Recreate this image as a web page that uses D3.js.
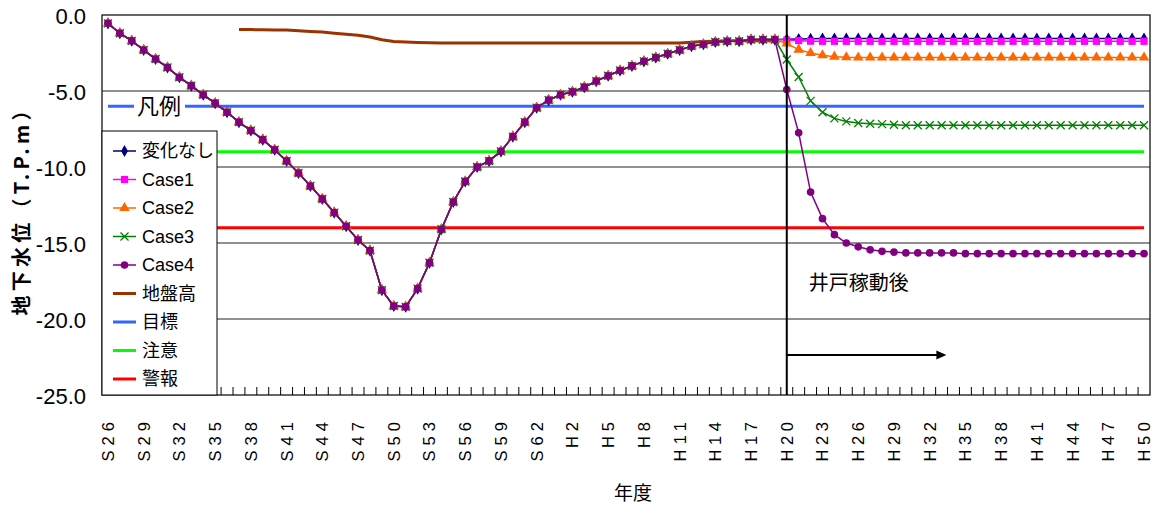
<!DOCTYPE html>
<html>
<head>
<meta charset="utf-8">
<script src="https://cdn.jsdelivr.net/npm/d3@7"></script>
<style>
  body { margin: 0; background: #fff; }
  svg { display: block; }
</style>
</head>
<body>
<div id="chart"></div>
<script>
const width = 1164
const height = 510

// fiscal years S26 .. H50
const categories = ["S26","S27","S28","S29","S30","S31","S32","S33","S34","S35","S36","S37","S38","S39","S40","S41","S42","S43","S44","S45","S46","S47","S48","S49","S50","S51","S52","S53","S54","S55","S56","S57","S58","S59","S60","S61","S62","S63","H1","H2","H3","H4","H5","H6","H7","H8","H9","H10","H11","H12","H13","H14","H15","H16","H17","H18","H19","H20","H21","H22","H23","H24","H25","H26","H27","H28","H29","H30","H31","H32","H33","H34","H35","H36","H37","H38","H39","H40","H41","H42","H43","H44","H45","H46","H47","H48","H49","H50"]
const tickLabels = ["S26","S29","S32","S35","S38","S41","S44","S47","S50","S53","S56","S59","S62","H2","H5","H8","H11","H14","H17","H20","H23","H26","H29","H32","H35","H38","H41","H44","H47","H50"]
const yTicks = [0, -5, -10, -15, -20, -25]

// observed levels S26..H19, shared by every case
const observed = [-0.55,-1.2,-1.7,-2.3,-2.9,-3.45,-4.1,-4.65,-5.25,-5.8,
  -6.4,-7.05,-7.6,-8.2,-8.87,-9.6,-10.4,-11.25,-12.1,-13.0,
  -13.9,-14.8,-15.5,-18.1,-19.15,-19.2,-18.0,-16.3,-14.1,-12.3,
  -10.95,-10.0,-9.6,-8.97,-8.0,-7.05,-6.1,-5.6,-5.25,-5.05,
  -4.75,-4.35,-4.0,-3.65,-3.35,-3.05,-2.8,-2.55,-2.3,-2.05,
  -1.93,-1.78,-1.73,-1.73,-1.62,-1.62,-1.62]

// H20..H50 per case
const noChange = [-1.6,-1.58,-1.56,-1.55,-1.55,-1.55,-1.55,-1.55,-1.55,-1.55,
  -1.55,-1.55,-1.55,-1.55,-1.55,-1.55,-1.55,-1.55,-1.55,-1.55,
  -1.55,-1.55,-1.55,-1.55,-1.55,-1.55,-1.55,-1.55,-1.55,-1.55,-1.55]
const case1 = [-1.65,-1.68,-1.72,-1.73,-1.73,-1.73,-1.73,-1.73,-1.73,-1.73,
  -1.73,-1.73,-1.73,-1.73,-1.73,-1.73,-1.73,-1.73,-1.73,-1.73,
  -1.73,-1.73,-1.73,-1.73,-1.73,-1.73,-1.73,-1.73,-1.73,-1.73,-1.73]
const case2 = [-1.88,-2.28,-2.5,-2.65,-2.74,-2.78,-2.8,-2.8,-2.8,-2.8,
  -2.8,-2.8,-2.8,-2.8,-2.8,-2.8,-2.8,-2.8,-2.8,-2.8,
  -2.8,-2.8,-2.8,-2.8,-2.8,-2.8,-2.8,-2.8,-2.8,-2.8,-2.8]
const case3 = [-2.93,-4.08,-5.65,-6.4,-6.8,-7.0,-7.1,-7.15,-7.18,-7.22,
  -7.25,-7.25,-7.25,-7.25,-7.25,-7.25,-7.25,-7.25,-7.25,-7.25,
  -7.25,-7.25,-7.25,-7.25,-7.25,-7.25,-7.25,-7.25,-7.25,-7.25,-7.25]
const case4 = [-4.9,-7.75,-11.65,-13.4,-14.45,-15.0,-15.25,-15.45,-15.55,-15.6,
  -15.65,-15.65,-15.65,-15.65,-15.65,-15.7,-15.7,-15.7,-15.7,-15.7,
  -15.7,-15.7,-15.7,-15.7,-15.7,-15.7,-15.7,-15.7,-15.7,-15.7,-15.7]

// ground level S37..H19
const groundStart = "S37"
const ground = [-0.95,-0.96,-0.97,-0.98,-0.99,-1.03,-1.08,-1.12,-1.2,-1.27,
  -1.33,-1.45,-1.63,-1.74,-1.78,-1.81,-1.83,-1.85,-1.85,-1.85,
  -1.85,-1.85,-1.85,-1.85,-1.85,-1.85,-1.85,-1.85,-1.85,-1.85,
  -1.85,-1.85,-1.85,-1.85,-1.85,-1.85,-1.85,-1.85,-1.8,-1.75,
  -1.72,-1.7,-1.7,-1.7,-1.7,-1.7]

const target = -6.0    // 目標
const caution = -9.0   // 注意
const alarm = -14.0    // 警報
const wellStart = "H20"
const arrowEnd = "H33"

const latin = "'Liberation Sans', Arial, sans-serif"
const jp = "'Noto Sans CJK JP', sans-serif"

const x = d3.scaleBand().domain(categories).range([102, 1150])
const cx = c => x(c) + x.bandwidth() / 2
const y = d3.scaleLinear().domain([0, -25]).range([15, 395])

const svg = d3.select("#chart").append("svg")
  .attr("width", width)
  .attr("height", height)

svg.append("rect").attr("width", width).attr("height", height).attr("fill", "#fff")

// gridlines
svg.append("g").selectAll("line")
  .data(yTicks.slice(1, -1))
  .join("line")
  .attr("x1", 102).attr("x2", 1150)
  .attr("y1", d => y(d)).attr("y2", d => y(d))
  .attr("stroke", "#222").attr("stroke-width", 1)

// y axis labels
const yAxis = svg.append("g")
  .attr("transform", "translate(102,0)")
  .call(d3.axisLeft(y).tickValues(yTicks).tickFormat(d => d.toFixed(1)).tickSize(0).tickPadding(16))
yAxis.select(".domain").remove()
yAxis.selectAll("text")
  .style("font-family", latin).style("font-size", "22px").attr("fill", "#000")
  .attr("dy", "0.4em")

// x axis labels, rotated and spread out
const xAxis = svg.append("g")
  .attr("transform", "translate(0,395)")
  .attr("font-size", 16)
  .attr("font-family", latin)
  .call(d3.axisBottom(x).tickValues(tickLabels).tickSize(0).tickFormat(""))
xAxis.select(".domain").remove()
xAxis.selectAll(".tick").append("text")
  .attr("fill", "#000")
  .attr("font-size", 16.5)
  .attr("text-anchor", "end")
  .attr("dy", "0.36em")
  .attr("textLength", d => d.length * 13.5 - 1)
  .attr("lengthAdjust", "spacing")
  .attr("transform", "translate(0,27) rotate(-90)")
  .text(d => d)

// inner tick marks between categories
svg.append("g").selectAll("line")
  .data(categories.slice(1))
  .join("line")
  .attr("x1", d => x(d)).attr("x2", d => x(d))
  .attr("y1", 395).attr("y2", 387)
  .attr("stroke", "#000")

// reference lines
const refs = [
  { value: alarm, color: "#ff0000" },
  { value: caution, color: "#00ff00" },
  { value: target, color: "#3366ff" }
]
svg.append("g").selectAll("line")
  .data(refs)
  .join("line")
  .attr("x1", cx(categories[0])).attr("x2", cx(categories[categories.length - 1]))
  .attr("y1", d => y(d.value)).attr("y2", d => y(d.value))
  .attr("stroke", d => d.color).attr("stroke-width", 3)

// ground level
const g0 = categories.indexOf(groundStart)
const line = d3.line().x(d => cx(d.c)).y(d => y(d.v))
svg.append("path")
  .datum(ground.map((v, i) => ({ c: categories[g0 + i], v })))
  .attr("d", line)
  .attr("fill", "none").attr("stroke", "#993300").attr("stroke-width", 3)

// cases
const series = [
  { name: "変化なし", after: noChange, color: "#000080", marker: "diamond" },
  { name: "Case1", after: case1, color: "#ff00ff", marker: "square" },
  { name: "Case2", after: case2, color: "#ff6600", marker: "triangle" },
  { name: "Case3", after: case3, color: "#008000", marker: "x" },
  { name: "Case4", after: case4, color: "#800080", marker: "circle" }
]

function drawMarker(sel, type, color) {
  if (type === "x") {
    sel.append("path").attr("d", "M-4,-4L4,4M-4,4L4,-4")
      .attr("stroke", color).attr("stroke-width", 1.3).attr("fill", "none")
    return
  }
  const sym = { diamond: d3.symbolDiamond, square: d3.symbolSquare, triangle: d3.symbolTriangle, circle: d3.symbolCircle }[type]
  const size = { diamond: 42, square: 52, triangle: 48, circle: 46 }[type]
  sel.append("path").attr("d", d3.symbol(sym, size)()).attr("fill", color)
}

series.forEach(s => {
  const vals = observed.concat(s.after)
  const pts = vals.map((v, i) => ({ c: categories[i], v }))
  const g = svg.append("g")
  g.append("path").datum(pts).attr("d", line)
    .attr("fill", "none").attr("stroke", s.color).attr("stroke-width", 1.5)
  g.selectAll("g.m").data(pts).join("g").attr("class", "m")
    .attr("transform", d => `translate(${cx(d.c)},${y(d.v)})`)
    .each(function () { drawMarker(d3.select(this), s.marker, s.color) })
})

// well start line and arrow
svg.append("line")
  .attr("x1", cx(wellStart)).attr("x2", cx(wellStart))
  .attr("y1", 15).attr("y2", 395)
  .attr("stroke", "#000").attr("stroke-width", 2)

const arrowX = cx(arrowEnd) + x.bandwidth() * 0.4
svg.append("line")
  .attr("x1", cx(wellStart)).attr("x2", arrowX - 8)
  .attr("y1", 355).attr("y2", 355)
  .attr("stroke", "#000").attr("stroke-width", 2)
svg.append("path")
  .attr("d", `M${arrowX},355L${arrowX - 10},350.5L${arrowX - 10},359.5Z`)
  .attr("fill", "#000")

svg.append("text")
  .attr("x", cx(wellStart) + 22).attr("y", 290)
  .attr("font-family", jp).attr("font-size", 20)
  .text("井戸稼動後")

// plot frame
svg.append("rect")
  .attr("x", 102).attr("y", 15).attr("width", 1048).attr("height", 380)
  .attr("fill", "none").attr("stroke", "#000").attr("stroke-width", 1.2)

// legend
const legendItems = [
  ...series.map(s => ({ name: s.name, color: s.color, marker: s.marker, w: 1.5 })),
  { name: "地盤高", color: "#993300", marker: null, w: 3 },
  { name: "目標", color: "#3366ff", marker: null, w: 3 },
  { name: "注意", color: "#00ff00", marker: null, w: 3 },
  { name: "警報", color: "#ff0000", marker: null, w: 3 }
]
svg.append("rect")
  .attr("x", 102).attr("y", 131).attr("width", 115).attr("height", 264)
  .attr("fill", "#fff").attr("stroke", "#000").attr("stroke-width", 1)

const lg = svg.append("g").selectAll("g")
  .data(legendItems)
  .join("g")
  .attr("transform", (d, i) => `translate(0,${151 + i * 28.5})`)
lg.append("line")
  .attr("x1", 113).attr("x2", 136)
  .attr("stroke", d => d.color).attr("stroke-width", d => d.w)
lg.each(function (d) {
  if (d.marker) {
    drawMarker(d3.select(this).append("g").attr("transform", "translate(124.5,0)"), d.marker, d.color)
  }
})
lg.append("text")
  .attr("x", 142).attr("dy", "0.36em")
  .attr("font-family", d => /^Case/.test(d.name) ? latin : jp)
  .attr("font-size", 18)
  .text(d => d.name)

// legend title
svg.append("rect")
  .attr("x", 134).attr("y", 94).attr("width", 51).attr("height", 24)
  .attr("fill", "#fff")
svg.append("text")
  .attr("x", 159).attr("y", 106).attr("dy", "0.36em")
  .attr("text-anchor", "middle")
  .attr("font-family", jp).attr("font-size", 22)
  .text("凡例")

// axis titles
svg.append("text")
  .attr("transform", "translate(22,208) rotate(-90)")
  .attr("text-anchor", "middle").attr("dy", "0.36em")
  .attr("font-family", jp).attr("font-size", 20).attr("font-weight", "bold")
  .attr("textLength", 215).attr("lengthAdjust", "spacing")
  .text("地下水位（T.P.m）")

svg.append("text")
  .attr("x", 633).attr("y", 493).attr("dy", "0.36em")
  .attr("text-anchor", "middle")
  .attr("font-family", jp).attr("font-size", 19)
  .text("年度")
</script>
</body>
</html>
